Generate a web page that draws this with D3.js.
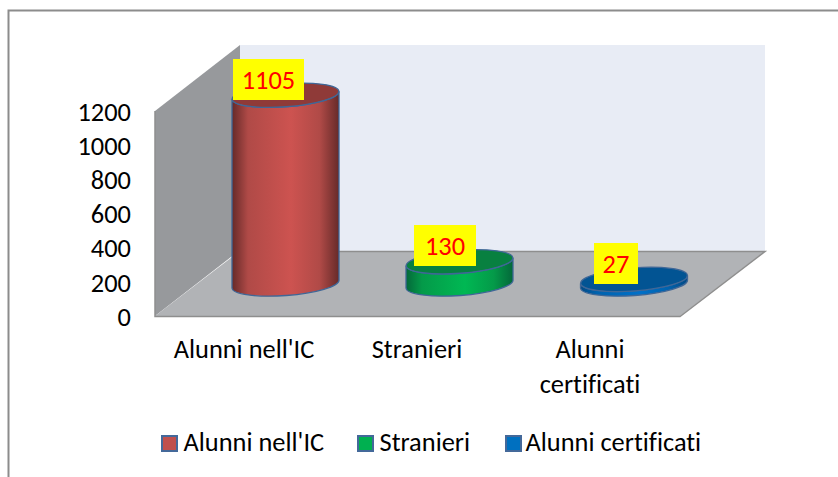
<!DOCTYPE html>
<html><head><meta charset="utf-8">
<script src="https://cdn.jsdelivr.net/npm/d3@7/dist/d3.min.js"></script>
<style>html,body{margin:0;padding:0;background:#fff}svg{display:block}text{font-variant-ligatures:none}</style>
</head><body><svg id="c" width="838" height="477"></svg>
<script>
const categories = ["Alunni nell'IC","Stranieri","Alunni certificati"];
const values = [1105,130,27];
const axisTicks = [0,200,400,600,800,1000,1200];
const topColors = ["#8f3a38","#088040","#025493"];
const midColors = ["#cd5350","#00b853","#0070c8"];
const shadeColors = ["#b04a47","#049a49","#0062ad"];
const darkColors = ["#662a29","#04683a","#024a85"];
const legendColors = ["#c0504d","#00b050","#0070c0"];
const axisLabels = [["Alunni nell'IC"],["Stranieri"],["Alunni","certificati"]];
const font = "Carlito, Lato, 'Open Sans', sans-serif";
const fs = 26.4;

const svg = d3.select("#c");
const defs = svg.append("defs");
// outer frame
svg.append("path").attr("d","M8.5,477V10.5H838").attr("fill","none").attr("stroke","#8c8c8c").attr("stroke-width",2);

const y = d3.scaleLinear().domain([0,1200]).range([316,111]);

// walls
svg.append("polygon").attr("points",[[155,111],[240,45],[240,250],[155,316]].join(" ")).attr("fill","#97999c");
svg.append("polygon").attr("points",[[240,45],[765,45],[765,251],[240,251]].join(" ")).attr("fill","#e8ecf5");
svg.append("polygon").attr("points",[[155,316],[240,251],[765,251],[680,316]].join(" ")).attr("fill","#b1b3b6");
svg.append("path").attr("d","M240,251.5H765L680,316.5H155V111").attr("fill","none").attr("stroke","#8e8e8e").attr("stroke-width",1.5);

// axis
const axis = d3.axisLeft(y).tickValues(axisTicks).tickSize(0).tickPadding(0).tickFormat(d3.format("d"));
const ga = svg.append("g").attr("transform","translate(131,0)").call(axis);
ga.select(".domain").remove();
ga.selectAll("text").attr("font-family",font).attr("font-size",fs).attr("fill","#000").attr("dy","0.35em");

// cylinders: tilted ellipses
const rx = 53.5, ry = 11.5, tiltDy = 4;
const cxs = [285.5,459.5,634];
const baseY = 284;
const h = d3.scaleLinear().domain([0,1200]).range([0,205]);
const rot = -Math.atan2(tiltDy,rx)*180/Math.PI;
values.forEach((v,i)=>{
  const g = defs.append("linearGradient").attr("id","g"+i);
  g.append("stop").attr("offset","0").attr("stop-color",darkColors[i]);
  g.append("stop").attr("offset","0.15").attr("stop-color",shadeColors[i]);
  g.append("stop").attr("offset","0.55").attr("stop-color",midColors[i]);
  g.append("stop").attr("offset","0.82").attr("stop-color",shadeColors[i]);
  g.append("stop").attr("offset","1").attr("stop-color",darkColors[i]);
  const cx = cxs[i], yb = baseY, yt = baseY - h(v);
  const a = `A${rx},${ry} ${rot}`;
  svg.append("path").attr("d",`M${cx-rx},${yt+tiltDy}L${cx-rx},${yb+tiltDy}${a} 0 0 ${cx+rx},${yb-tiltDy}L${cx+rx},${yt-tiltDy}${a} 0 1 ${cx-rx},${yt+tiltDy}Z`)
    .attr("fill",`url(#g${i})`).attr("stroke","#3f6797").attr("stroke-width",1.3);
  svg.append("ellipse").attr("transform",`translate(${cx},${yt}) rotate(${rot})`).attr("rx",rx).attr("ry",ry)
    .attr("fill",topColors[i]).attr("stroke","#3f6797").attr("stroke-width",1.3);
  // label
  const lw = [71,62,44][i], lh = 41;
  const lx = [233,414,594][i], ly = [59,225,243][i];
  svg.append("rect").attr("x",lx).attr("y",ly).attr("width",lw).attr("height",lh).attr("fill","#ffff00");
  svg.append("text").attr("x",lx+lw/2).attr("y",ly+lh/2).attr("dy","0.36em").attr("text-anchor","middle")
    .attr("font-family",font).attr("font-size",fs).attr("fill","#ff0000").text(v);
});

// category labels
const labelX = [244,417,590];
axisLabels.forEach((lines,i)=>{
  lines.forEach((t,j)=>{
    svg.append("text").attr("x",labelX[i]).attr("y",358+j*35).attr("text-anchor","middle")
      .attr("font-family",font).attr("font-size",fs).attr("fill","#000").text(t);
  });
});

// legend
const legendX = [161,357,505];
categories.forEach((c,i)=>{
  svg.append("rect").attr("x",legendX[i]+1).attr("y",436).attr("width",15).attr("height",15)
    .attr("fill",legendColors[i]).attr("stroke","#44699a").attr("stroke-width",2);
  svg.append("text").attr("x",legendX[i]+[22.5,22.5,20.5][i]).attr("y",451).attr("font-family",font).attr("font-size",fs).attr("fill","#000").text(c);
});
</script></body></html>
